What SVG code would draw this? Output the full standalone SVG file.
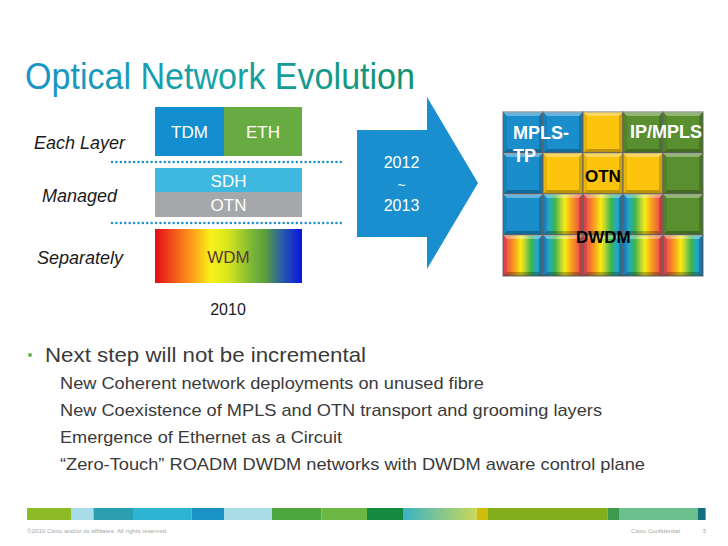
<svg xmlns="http://www.w3.org/2000/svg" xmlns:xlink="http://www.w3.org/1999/xlink" width="728" height="546" viewBox="0 0 728 546">
<style>
.sans{font-family:"Liberation Sans",Arial,sans-serif}
.lbl{font-family:"Liberation Sans",Arial,sans-serif;font-style:italic;font-size:18px;fill:#1a1a1a}
.box{font-family:"Liberation Sans",Arial,sans-serif;font-size:17px;fill:#ffffff;text-anchor:middle}
.dots{stroke:#1a8fcf;stroke-width:2.4;stroke-linecap:round;stroke-dasharray:0.1 4.3;fill:none}
.cell{stroke:#6a6a6a;stroke-width:1}
.cb{fill:#1a8dcb}
.cy{fill:#fcc40c}
.cg{fill:#5a8f2f}
.gl{font-family:"Liberation Sans",Arial,sans-serif;font-weight:bold}
.body{font-family:"Liberation Sans",Arial,sans-serif;fill:#3a3a3a}
.foot{font-family:"Liberation Sans",Arial,sans-serif;font-size:6px;fill:#a6a6a6}
</style>
<defs>
<linearGradient id="titleGrad" x1="0" y1="0" x2="1" y2="0">
<stop offset="0" stop-color="#1a93c8"/>
<stop offset="0.5" stop-color="#16a3a6"/>
<stop offset="1" stop-color="#13906f"/>
</linearGradient>
<linearGradient id="wdmGrad" x1="0" y1="0" x2="1" y2="0">
<stop offset="0" stop-color="#e30b16"/>
<stop offset="0.12" stop-color="#f2511a"/>
<stop offset="0.25" stop-color="#fb9c1a"/>
<stop offset="0.38" stop-color="#f9f21a"/>
<stop offset="0.5" stop-color="#d6e51e"/>
<stop offset="0.65" stop-color="#80b935"/>
<stop offset="0.75" stop-color="#5a9e3c"/>
<stop offset="0.86" stop-color="#2a5fa8"/>
<stop offset="1" stop-color="#0a14e0"/>
</linearGradient>
<linearGradient id="rbBR" x1="0" y1="0" x2="1" y2="0">
<stop offset="0" stop-color="#1f7fc8"/>
<stop offset="0.15" stop-color="#23a8c8"/>
<stop offset="0.3" stop-color="#3cb54a"/>
<stop offset="0.45" stop-color="#b8d432"/>
<stop offset="0.55" stop-color="#f7ec13"/>
<stop offset="0.7" stop-color="#f9a51b"/>
<stop offset="0.85" stop-color="#f26b3a"/>
<stop offset="1" stop-color="#ec3a5a"/>
</linearGradient>
<linearGradient id="rbRB" x1="1" y1="0" x2="0" y2="0" xlink:href="#rbBR"/>
<linearGradient id="footGrad" x1="0" y1="0" x2="1" y2="0">
<stop offset="0" stop-color="#3bb3c6"/>
<stop offset="1" stop-color="#c9d85a"/>
</linearGradient>
<g id="bevel">
<polygon points="0,0 40,0 36,4 4,4" fill="#ffffff" fill-opacity="0.35"/>
<polygon points="0,41 40,41 36,37 4,37" fill="#000000" fill-opacity="0.25"/>
<polygon points="0,0 4,4 4,37 0,41" fill="#000000" fill-opacity="0.08"/>
<polygon points="40,0 36,4 36,37 40,41" fill="#000000" fill-opacity="0.18"/>
</g>
</defs>
<rect width="728" height="546" fill="#ffffff"/>

<g id="title">
<text x="25" y="89" class="sans" font-size="36" fill="url(#titleGrad)" textLength="390" lengthAdjust="spacingAndGlyphs">Optical Network Evolution</text>
</g>

<g id="layer-labels">
<text x="34" y="149" class="lbl">Each Layer</text>
<text x="42" y="202" class="lbl">Managed</text>
<text x="37" y="264" class="lbl">Separately</text>
</g>

<g id="connectors">
<line x1="112" y1="162" x2="345" y2="162" class="dots"/>
<line x1="112" y1="223" x2="345" y2="223" class="dots"/>
</g>

<g id="tdm">
<rect x="155" y="107" width="69" height="49" fill="#138fcf"/>
<text x="189.5" y="138" class="box">TDM</text>
</g>
<g id="eth">
<rect x="224" y="107" width="78" height="49" fill="#68ab42"/>
<text x="263" y="138" class="box">ETH</text>
</g>
<g id="sdh">
<rect x="155" y="168" width="147" height="24" fill="#3eb8de"/>
<text x="228.5" y="187" class="box">SDH</text>
</g>
<g id="otn-box">
<rect x="155" y="192" width="147" height="25" fill="#a6a7a9"/>
<text x="228.5" y="211" class="box">OTN</text>
</g>
<g id="wdm">
<rect x="155" y="229" width="147" height="54" fill="url(#wdmGrad)"/>
<text x="228.5" y="263" class="box" fill="#5a3a3a" style="fill:#5a3838">WDM</text>
</g>
<g id="year-2010">
<text x="228" y="315" class="sans" font-size="16" fill="#1a1a1a" text-anchor="middle">2010</text>
</g>

<g id="arrow">
<polygon points="357,130 427,130 427,97 478,183 427,269 427,237 357,237" fill="#1a8fcf"/>
<text x="401.5" y="168" class="sans" font-size="16" fill="#ffffff" text-anchor="middle">2012</text>
<text x="401.5" y="190" class="sans" font-size="14" fill="#ffffff" text-anchor="middle">~</text>
<text x="401.5" y="211" class="sans" font-size="16" fill="#ffffff" text-anchor="middle">2013</text>
</g>

<g id="grid">
<rect x="503" y="112" width="40" height="41" class="cell cb"/><use xlink:href="#bevel" x="503" y="112"/>
<rect x="543" y="112" width="40" height="41" class="cell cb"/><use xlink:href="#bevel" x="543" y="112"/>
<rect x="583" y="112" width="40" height="41" class="cell cy"/><use xlink:href="#bevel" x="583" y="112"/>
<rect x="623" y="112" width="40" height="41" class="cell cg"/><use xlink:href="#bevel" x="623" y="112"/>
<rect x="663" y="112" width="40" height="41" class="cell cg"/><use xlink:href="#bevel" x="663" y="112"/>

<rect x="503" y="153" width="40" height="41" class="cell cb"/><use xlink:href="#bevel" x="503" y="153"/>
<rect x="543" y="153" width="40" height="41" class="cell cy"/><use xlink:href="#bevel" x="543" y="153"/>
<rect x="583" y="153" width="40" height="41" class="cell cy"/><use xlink:href="#bevel" x="583" y="153"/>
<rect x="623" y="153" width="40" height="41" class="cell cy"/><use xlink:href="#bevel" x="623" y="153"/>
<rect x="663" y="153" width="40" height="41" class="cell cg"/><use xlink:href="#bevel" x="663" y="153"/>

<rect x="503" y="194" width="40" height="41" class="cell cb"/><use xlink:href="#bevel" x="503" y="194"/>
<rect x="543" y="194" width="40" height="41" class="cell" fill="url(#rbBR)"/><use xlink:href="#bevel" x="543" y="194"/>
<rect x="583" y="194" width="40" height="41" class="cell" fill="url(#rbRB)"/><use xlink:href="#bevel" x="583" y="194"/>
<rect x="623" y="194" width="40" height="41" class="cell" fill="url(#rbBR)"/><use xlink:href="#bevel" x="623" y="194"/>
<rect x="663" y="194" width="40" height="41" class="cell cg"/><use xlink:href="#bevel" x="663" y="194"/>

<rect x="503" y="235" width="40" height="41" class="cell" fill="url(#rbRB)"/><use xlink:href="#bevel" x="503" y="235"/>
<rect x="543" y="235" width="40" height="41" class="cell" fill="url(#rbBR)"/><use xlink:href="#bevel" x="543" y="235"/>
<rect x="583" y="235" width="40" height="41" class="cell" fill="url(#rbRB)"/><use xlink:href="#bevel" x="583" y="235"/>
<rect x="623" y="235" width="40" height="41" class="cell" fill="url(#rbBR)"/><use xlink:href="#bevel" x="623" y="235"/>
<rect x="663" y="235" width="40" height="41" class="cell" fill="url(#rbRB)"/><use xlink:href="#bevel" x="663" y="235"/>
</g>

<g id="grid-labels">
<text x="513" y="139" class="gl" font-size="18" fill="#ffffff">MPLS-</text>
<text x="513" y="162" class="gl" font-size="18" fill="#ffffff">TP</text>
<text x="630" y="138" class="gl" font-size="18" fill="#ffffff">IP/MPLS</text>
<text x="585" y="182" class="gl" font-size="17" fill="#000000">OTN</text>
<text x="576" y="243" class="gl" font-size="17" fill="#000000">DWDM</text>
</g>

<g id="bullets">
<circle cx="30" cy="355" r="2" fill="#6ab04c"/>
<text x="45" y="362" class="body" font-size="21" textLength="321" lengthAdjust="spacingAndGlyphs">Next step will not be incremental</text>
<text x="60" y="389" class="body" font-size="17" textLength="424" lengthAdjust="spacingAndGlyphs">New Coherent network deployments on unused fibre</text>
<text x="60" y="416" class="body" font-size="17" textLength="542" lengthAdjust="spacingAndGlyphs">New Coexistence of MPLS and OTN transport and grooming layers</text>
<text x="60" y="443" class="body" font-size="17" textLength="282" lengthAdjust="spacingAndGlyphs">Emergence of Ethernet as a Circuit</text>
<text x="60" y="470" class="body" font-size="17" textLength="585" lengthAdjust="spacingAndGlyphs">“Zero-Touch” ROADM DWDM networks with DWDM aware control plane</text>
</g>

<g id="footer">
<rect x="27" y="508" width="44.5" height="12" fill="#8dbb25"/>
<rect x="71.5" y="508" width="22" height="12" fill="#a8dce6"/>
<rect x="93.5" y="508" width="39.5" height="12" fill="#2a9fb0"/>
<rect x="133" y="508" width="58.6" height="12" fill="#2db3d3"/>
<rect x="191.6" y="508" width="32.4" height="12" fill="#1a93c4"/>
<rect x="224" y="508" width="48" height="12" fill="#a8dce6"/>
<rect x="272" y="508" width="49.5" height="12" fill="#4ea63e"/>
<rect x="321.5" y="508" width="45.5" height="12" fill="#6db744"/>
<rect x="367" y="508" width="36" height="12" fill="#138a3f"/>
<rect x="403" y="508" width="73.6" height="12" fill="url(#footGrad)"/>
<rect x="476.6" y="508" width="11.4" height="12" fill="#cfbd0e"/>
<rect x="488" y="508" width="119.5" height="12" fill="#82ae1d"/>
<rect x="607.5" y="508" width="11.5" height="12" fill="#3e9a4c"/>
<rect x="619" y="508" width="78.7" height="12" fill="#6cc08e"/>
<rect x="697.7" y="508" width="7.9" height="12" fill="#136f7e"/>
<text x="27" y="533" class="foot" textLength="141" lengthAdjust="spacingAndGlyphs">©2010 Cisco and/or its affiliates. All rights reserved.</text>
<text x="631" y="533" class="foot" textLength="49" lengthAdjust="spacingAndGlyphs">Cisco Confidential</text>
<text x="703" y="533" class="foot">5</text>
</g>
</svg>
